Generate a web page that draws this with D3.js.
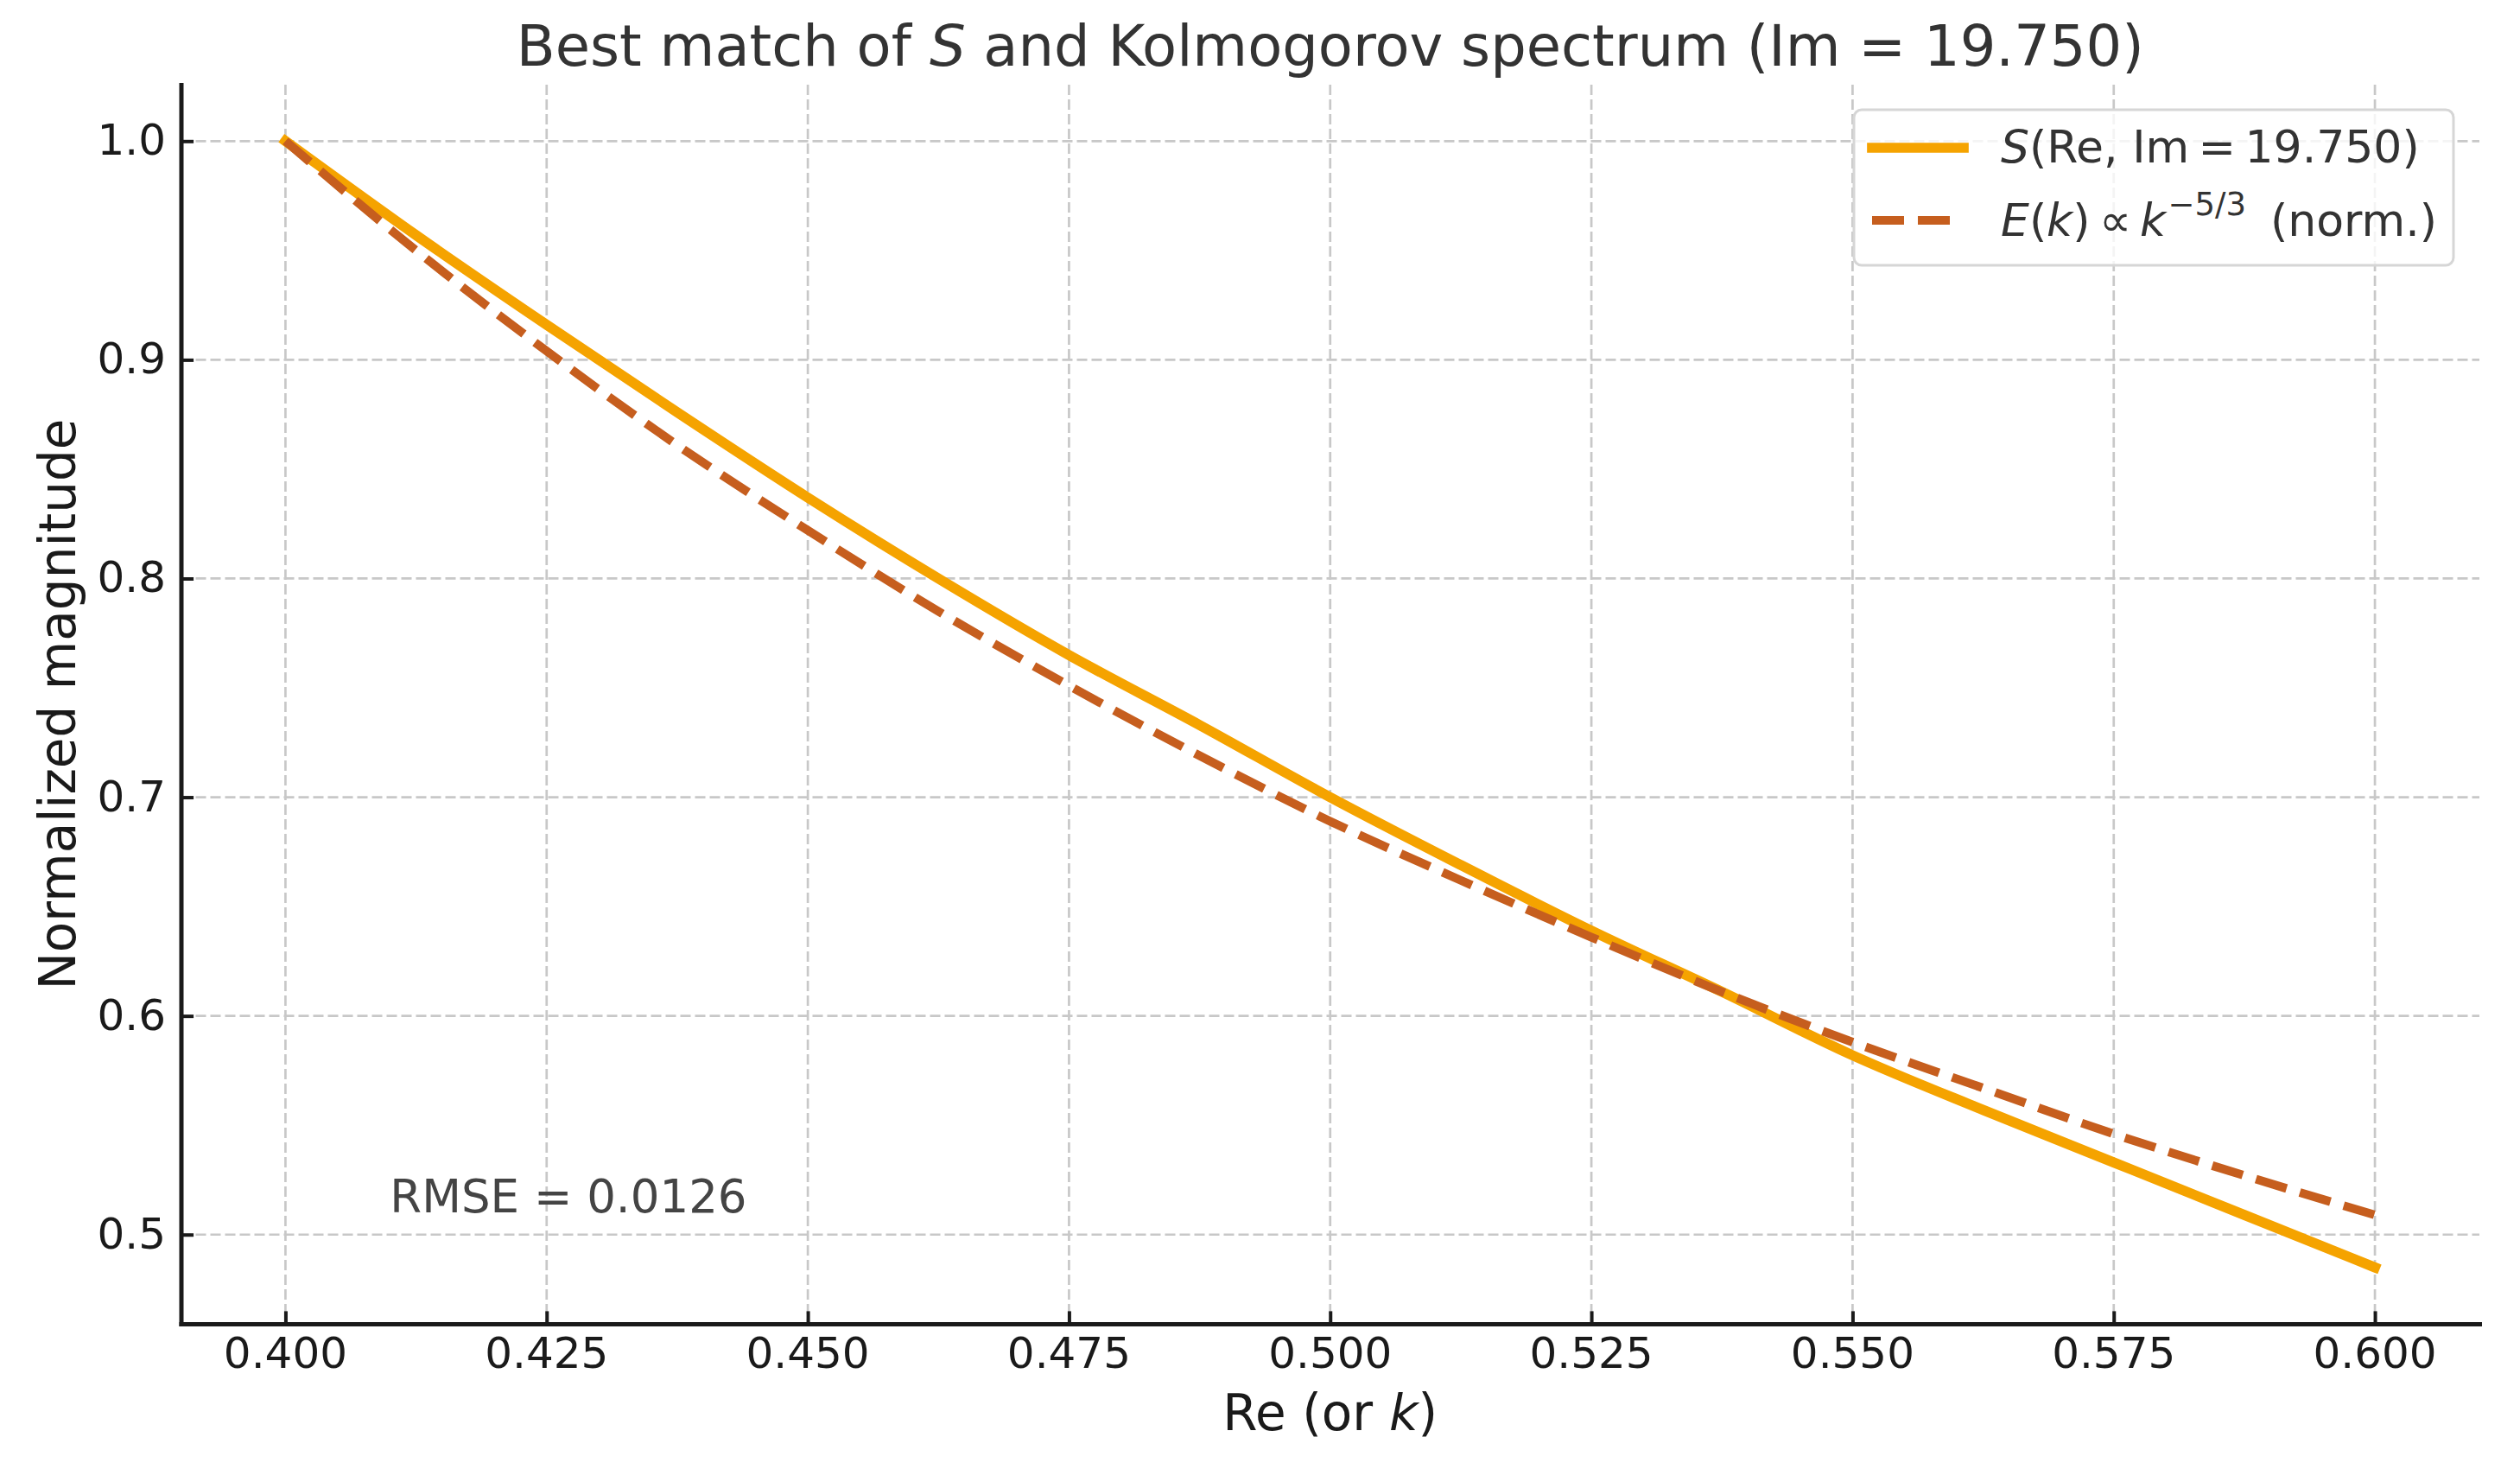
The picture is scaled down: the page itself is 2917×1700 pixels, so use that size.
<!DOCTYPE html>
<html>
<head>
<meta charset="utf-8">
<script src="https://cdn.jsdelivr.net/npm/d3@7"></script>
<style>
  html, body { margin: 0; padding: 0; background: #fff; overflow: hidden; }
  svg { display: block; }
  text { font-family: "DejaVu Sans", sans-serif; white-space: pre; }
</style>
</head>
<body>
<svg id="chart"></svg>
<script>
// values
const reValues = [0.4, 0.4125, 0.425, 0.4375, 0.45, 0.4625, 0.475, 0.4875, 0.5,
                  0.5125, 0.525, 0.5375, 0.55, 0.5625, 0.575, 0.5875, 0.6];
const sValues = [1.000, 0.957, 0.916, 0.876, 0.837, 0.800, 0.765, 0.733, 0.700,
                 0.669, 0.639, 0.611, 0.582, 0.557, 0.533, 0.509, 0.485];
const kolmoValues = [1.000, 0.950, 0.904, 0.861, 0.822, 0.785, 0.751, 0.719, 0.689,
                     0.662, 0.636, 0.611, 0.588, 0.567, 0.546, 0.527, 0.509];
const xTicks = [0.4, 0.425, 0.45, 0.475, 0.5, 0.525, 0.55, 0.575, 0.6];
const yTicks = [0.5, 0.6, 0.7, 0.8, 0.9, 1.0];
const rmseText = "RMSE = 0.0126";
const rmseAt = { x: 0.41, y: 0.51 };

// sans-serif italic letters as single characters
const itS = "\u{1D61A}", itE = "\u{1D60C}", itK = "\u{1D62C}";
const titleText = `Best match of ${itS} and Kolmogorov spectrum (Im = 19.750)`;
const xLabelText = `Re (or ${itK})`;
const yLabelText = "Normalized magnitude";
const legendS = `${itS}(Re, Im\u2009=\u200919.750)`;
const legendE = `${itE}(${itK})\u2009\u221d\u2009${itK}`;
const legendExp = "\u22125/3";
const legendNorm = "(norm.)";

const width = 2917;
const height = 1700;
const margin = { top: 98, right: 47, bottom: 168, left: 209.5 };
const innerWidth = width - margin.left - margin.right;
const innerHeight = height - margin.top - margin.bottom;

const orange = "#f5a300";
const rust = "#c65e1e";

const xScale = d3.scaleLinear().domain([0.39, 0.61]).range([0, innerWidth]);
const yScale = d3.scaleLinear().domain([0.4592, 1.0258]).range([innerHeight, 0]);

const svg = d3.select("#chart")
    .attr("width", width)
    .attr("height", height);

svg.append("rect").attr("width", width).attr("height", height).attr("fill", "#fff");

const g = svg.append("g")
    .attr("transform", `translate(${margin.left}, ${margin.top})`);

// grid
g.append("g").selectAll("line")
    .data(xTicks)
    .enter()
    .append("line")
    .attr("x1", d => xScale(d)).attr("x2", d => xScale(d))
    .attr("y1", 0).attr("y2", innerHeight)
    .attr("stroke", "#c8c8c8").attr("stroke-width", 2.7)
    .attr("stroke-dasharray", "12,5");

g.append("g").selectAll("line")
    .data(yTicks)
    .enter()
    .append("line")
    .attr("x1", 0).attr("x2", innerWidth)
    .attr("y1", d => yScale(d)).attr("y2", d => yScale(d))
    .attr("stroke", "#c8c8c8").attr("stroke-width", 2.7)
    .attr("stroke-dasharray", "12,5");

// curves
const sData = reValues.map((x, i) => ({ x: x, y: sValues[i] }));
const kData = reValues.map((x, i) => ({ x: x, y: kolmoValues[i] }));

const lineGenerator = d3.line()
    .x(d => xScale(d.x))
    .y(d => yScale(d.y))
    .curve(d3.curveMonotoneX);

g.append("path")
    .datum(sData)
    .attr("fill", "none")
    .attr("stroke", orange)
    .attr("stroke-width", 11.7)
    .attr("stroke-linecap", "square")
    .attr("d", lineGenerator);

g.append("path")
    .datum(kData)
    .attr("fill", "none")
    .attr("stroke", rust)
    .attr("stroke-width", 10)
    .attr("stroke-dasharray", "37,16")
    .attr("d", lineGenerator);

// axes: ticks + spines from d3, labels placed in page coords
const xAxis = d3.axisBottom(xScale)
    .tickValues(xTicks)
    .tickFormat("")
    .tickSizeInner(-14.6)
    .tickSizeOuter(0);

const yAxis = d3.axisLeft(yScale)
    .tickValues(yTicks)
    .tickFormat("")
    .tickSizeInner(-14.6)
    .tickSizeOuter(0);

const gx = g.append("g")
    .attr("transform", `translate(0, ${innerHeight})`)
    .call(xAxis);
const gy = g.append("g").call(yAxis);

[gx, gy].forEach(ax => {
    ax.select(".domain").attr("stroke", "#1a1a1a").attr("stroke-width", 5)
        .attr("stroke-linecap", "square");
    ax.selectAll(".tick line").attr("stroke", "#1a1a1a").attr("stroke-width", 4);
    ax.selectAll(".tick text").remove();
});

const fmtX = d3.format(".3f");
const fmtY = d3.format(".1f");

svg.append("g").selectAll("text")
    .data(xTicks)
    .enter()
    .append("text")
    .attr("x", d => margin.left + xScale(d))
    .attr("y", margin.top + innerHeight + 51)
    .attr("text-anchor", "middle")
    .attr("fill", "#1a1a1a")
    .style("font-size", "50px")
    .text(d => fmtX(d));

svg.append("g").selectAll("text")
    .data(yTicks)
    .enter()
    .append("text")
    .attr("x", margin.left - 17.5)
    .attr("y", d => margin.top + yScale(d) + 16)
    .attr("text-anchor", "end")
    .attr("fill", "#1a1a1a")
    .style("font-size", "50px")
    .text(d => fmtY(d));

// RMSE annotation
g.append("text")
    .attr("x", xScale(rmseAt.x))
    .attr("y", yScale(rmseAt.y))
    .attr("fill", "#444")
    .style("font-size", "53px")
    .text(rmseText);

// title
svg.append("text")
    .attr("x", margin.left + innerWidth / 2)
    .attr("y", 76)
    .attr("text-anchor", "middle")
    .attr("fill", "#333")
    .style("font-size", "65.5px")
    .text(titleText);

// axis labels
svg.append("text")
    .attr("x", margin.left + innerWidth / 2)
    .attr("y", 1655)
    .attr("text-anchor", "middle")
    .attr("fill", "#1a1a1a")
    .style("font-size", "58px")
    .text(xLabelText);

svg.append("text")
    .attr("transform", `translate(87, ${margin.top + innerHeight / 2}) rotate(-90)`)
    .attr("text-anchor", "middle")
    .attr("fill", "#1a1a1a")
    .style("font-size", "58px")
    .text(yLabelText);

// legend
const legend = svg.append("g").attr("transform", "translate(2146, 127)");
legend.append("rect")
    .attr("width", 694).attr("height", 180)
    .attr("rx", 9).attr("ry", 9)
    .attr("fill", "#fff").attr("fill-opacity", 0.8)
    .attr("stroke", "#d6d6d6").attr("stroke-width", 3);

legend.append("line")
    .attr("x1", 21).attr("x2", 127).attr("y1", 44).attr("y2", 44)
    .attr("stroke", orange).attr("stroke-width", 11.7)
    .attr("stroke-linecap", "square");
legend.append("line")
    .attr("x1", 21).attr("x2", 127).attr("y1", 128).attr("y2", 128)
    .attr("stroke", rust).attr("stroke-width", 10)
    .attr("stroke-dasharray", "37,16");

legend.append("text")
    .attr("x", 170).attr("y", 61)
    .attr("fill", "#333")
    .style("font-size", "52px")
    .text(legendS);

const eText = legend.append("text")
    .attr("x", 170).attr("y", 146)
    .attr("fill", "#333")
    .style("font-size", "52px")
    .text(legendE);
const eEnd = 170 + eText.node().getComputedTextLength();
const expText = legend.append("text")
    .attr("x", eEnd + 2).attr("y", 122)
    .attr("fill", "#333")
    .style("font-size", "37px")
    .text(legendExp);
legend.append("text")
    .attr("x", eEnd + 2 + expText.node().getComputedTextLength() + 28).attr("y", 146)
    .attr("fill", "#333")
    .style("font-size", "52px")
    .text(legendNorm);
</script>
</body>
</html>
